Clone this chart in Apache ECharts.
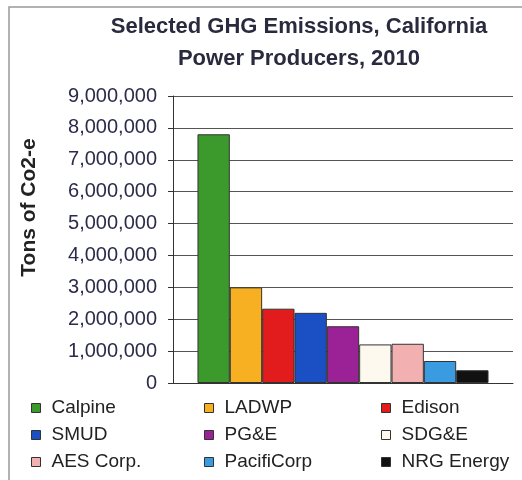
<!DOCTYPE html>
<html>
<head>
<meta charset="utf-8">
<script src="https://cdn.jsdelivr.net/npm/echarts@6/dist/echarts.min.js"></script>
<style>
    html, body { margin: 0; padding: 0; background: #fff; }
    #chart { width: 522px; height: 480px; }
</style>
</head>
<body>
<div id="chart"></div>
<script>
const chart = echarts.init(document.getElementById("chart"));

// Producers, in bar order
const producers = ["Calpine", "LADWP", "Edison", "SMUD", "PG&E", "SDG&E", "AES Corp.", "PacifiCorp", "NRG Energy"];
const emissions = [7800000, 3000000, 2330000, 2200000, 1780000, 1210000, 1230000, 690000, 400000];
const colors = ["#3c9a2c", "#f7b021", "#e21c1c", "#1b4fc4", "#9a2196", "#fdf9ee", "#f2b1b0", "#3a9be0", "#111111"];

const yTicks = { min: 0, max: 9000000, step: 1000000 };

// legend columns, as laid out in three vertical lists
const legendCols = [
    ["Calpine", "SMUD", "AES Corp."],
    ["LADWP", "PG&E", "PacifiCorp"],
    ["Edison", "SDG&E", "NRG Energy"]
];
const legendLeft = [31, 204, 381];

function formatAmount(n) {
    return Number(n).toLocaleString("en-US");
}

const series = producers.map((name, i) => ({
    name: name,
    type: "bar",
    barGap: "0%",
    barCategoryGap: "14.4%",
    itemStyle: {
        color: colors[i],
        borderColor: "#333",
        borderWidth: 1
    },
    data: [emissions[i]]
}));

const legends = legendCols.map((col, i) => ({
    orient: "vertical",
    left: legendLeft[i],
    top: 398,
    height: 80,
    padding: 0,
    itemWidth: 9,
    itemHeight: 9,
    itemGap: 7,
    icon: "rect",
    itemStyle: { borderColor: "#333", borderWidth: 1 },
    textStyle: {
        fontFamily: "Liberation Sans",
        fontSize: 19,
        lineHeight: 20,
        color: "#222",
        padding: [0, 0, 0, 6]
    },
    data: col
}));

const option = {
    animation: false,
    textStyle: { fontFamily: "Liberation Sans" },
    title: {
        text: "Selected GHG Emissions, California\nPower Producers, 2010",
        left: 299,
        textAlign: "center",
        top: 11,
        padding: 0,
        textStyle: {
            fontFamily: "Liberation Sans",
            fontSize: 22,
            fontWeight: "bold",
            lineHeight: 32,
            color: "#2a2a3e"
        }
    },
    graphic: [{
        type: "rect",
        shape: { x: 9, y: 7, width: 600, height: 600 },
        style: { fill: "none", stroke: "#999", lineWidth: 1.5 },
        silent: true
    }],
    legend: legends,
    grid: {
        left: 173,
        right: 9,
        top: 96,
        bottom: 97
    },
    xAxis: {
        type: "category",
        data: [""],
        axisLine: { lineStyle: { color: "#333" } },
        axisTick: { show: false },
        axisLabel: { show: false }
    },
    yAxis: {
        type: "value",
        min: yTicks.min,
        max: yTicks.max,
        interval: yTicks.step,
        name: "Tons of Co2-e",
        nameLocation: "middle",
        nameGap: 133,
        nameTextStyle: {
            fontFamily: "Liberation Sans",
            fontSize: 21,
            fontWeight: "bold",
            color: "#222",
            padding: [0, 0, 0, 64]
        },
        axisLine: { show: true, lineStyle: { color: "#333" } },
        axisTick: { show: true, length: 5, lineStyle: { color: "#333" } },
        axisLabel: {
            fontFamily: "Liberation Sans",
            fontSize: 20,
            color: "#2b2b4b",
            margin: 16,
            formatter: formatAmount
        },
        splitLine: { lineStyle: { color: "#555", width: 1 } }
    },
    series: series
};

chart.setOption(option);
</script>
</body>
</html>
